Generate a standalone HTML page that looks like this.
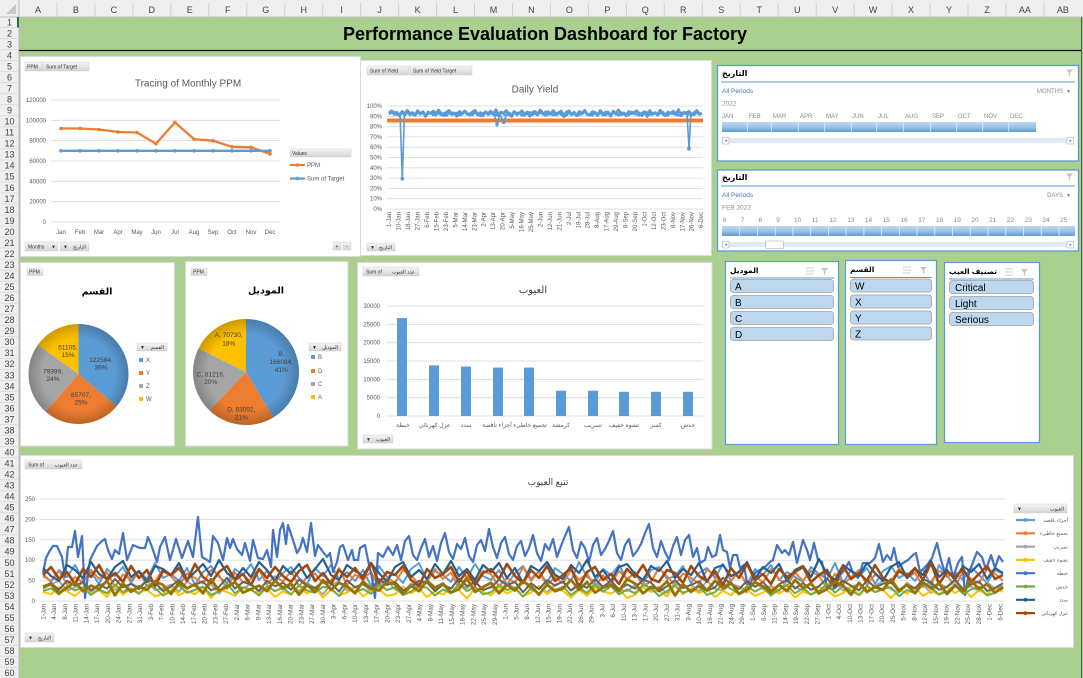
<!DOCTYPE html>
<html><head><meta charset="utf-8"><style>
html,body{margin:0;padding:0;background:#a9d08e;overflow:hidden}
svg{display:block}
text{font-family:"Liberation Sans","DejaVu Sans",sans-serif}
.h{font-size:9px;fill:#444}
.ax{font-size:6px;fill:#595959}
.b{font-size:5px;fill:#333}
.lg{font-size:6px;fill:#595959}
.pl{font-size:6.5px;fill:#404040}
.tl{font-size:6px;fill:#8a8a8a}
.it{font-size:10px;fill:#000}
</style></head><body>
<svg width="1083" height="678" viewBox="0 0 1083 678">
<defs>
<linearGradient id="btn" x1="0" y1="0" x2="0" y2="1"><stop offset="0" stop-color="#f6f6f6"/><stop offset="1" stop-color="#d3d3d3"/></linearGradient>
<linearGradient id="tlg" x1="0" y1="0" x2="0" y2="1"><stop offset="0" stop-color="#bcd7f0"/><stop offset="0.5" stop-color="#9cc3e8"/><stop offset="1" stop-color="#5b9bd5"/></linearGradient>
<radialGradient id="psh"><stop offset="0.72" stop-color="#000" stop-opacity="0"/><stop offset="1" stop-color="#000" stop-opacity="0.2"/></radialGradient>
<path id="n1" fill="none" vector-effect="non-scaling-stroke" stroke-linejoin="round" d="M0,0 L8,-8 16,4 24,-3 32,9 40,-6 48,2 56,-10 64,5 72,-2 80,7 88,-9 96,3 104,-5 112,11 120,-4 128,0 136,-7 144,6 152,-11 160,2 168,8 176,-3 184,-9 192,5 200,-1 208,10 216,-6 224,3 232,-8 240,1 248,7 256,-4 264,-10 272,6 280,-2 288,9 296,-5 304,2 312,-7 320,4 328,-12 336,8 344,-3 352,0 360,-9 368,5 376,11 384,-6 392,3 400,-1 408,-8 416,7 424,-4 432,10 440,-2 448,-6 456,4 464,-11 472,1 480,8 488,-5 496,3 504,-9 512,6 520,0 528,-7 536,12 544,-3 552,-8 560,5 568,-1 576,9 584,-6 592,2 600,-10 608,4 616,7 624,-5 632,-2 640,8 648,-9 656,1 664,6 672,-4 680,10 688,-7 696,3 704,-11 712,5 720,-1 728,9 736,-6 744,2 752,-3 760,-8 768,7 776,0 784,-5 792,11 800,-9 808,4 816,-2 824,6 832,-10 840,3 848,8 856,-4 864,1 872,-7 880,5 888,-12 896,9 904,-3 912,2 920,-6 928,7 936,-1 944,-9 952,4 960,0"/>
<path id="n2" fill="none" vector-effect="non-scaling-stroke" stroke-linejoin="round" d="M0,3 L8,-5 16,-10 24,6 32,1 40,-7 48,9 56,-3 64,-8 72,4 80,10 88,-6 96,0 104,-11 112,5 120,2 128,-4 136,8 144,-9 152,-1 160,7 168,-5 176,11 184,-2 192,-8 200,3 208,-6 216,9 224,1 232,-10 240,5 248,-3 256,7 264,-7 272,2 280,12 288,-4 296,-9 304,6 312,0 320,-5 328,8 336,-2 344,-11 352,4 360,9 368,-6 376,1 384,-8 392,7 400,-3 408,10 416,-5 424,2 432,-9 440,6 448,-1 456,8 464,-7 472,3 480,-12 488,5 496,0 504,9 512,-4 520,-8 528,6 536,-2 544,11 552,-6 560,1 568,-10 576,4 584,7 592,-3 600,-9 608,5 616,0 624,10 632,-7 640,2 648,-4 656,8 664,-11 672,3 680,6 688,-5 696,-1 704,9 712,-8 720,4 728,-2 736,7 744,-10 752,1 760,5 768,-6 776,12 784,-3 792,-9 800,6 808,0 816,-5 824,8 832,-2 840,-10 848,4 856,9 864,-7 872,2 880,-4 888,10 896,-6 904,1 912,-9 920,5 928,-1 936,7 944,-8 952,3 960,-2"/>
</defs>

<rect x="0" y="0" width="1083" height="678" fill="#a9d08e"/>
<rect x="0" y="0" width="1083" height="17" fill="#efefef"/>
<rect x="0" y="0" width="19" height="678" fill="#efefef"/>
<line x1="0" y1="17" x2="1083" y2="17" stroke="#bdbdbd" stroke-width="1"/>
<line x1="19" y1="0" x2="19" y2="678" stroke="#bdbdbd" stroke-width="1"/>
<path d="M6,14 L16,14 L16,4 Z" fill="#c8c8c8"/>
<path stroke="#d2d2d2" stroke-width="1" d="M57,3V17 M94.9,3V17 M132.9,3V17 M170.8,3V17 M208.8,3V17 M246.8,3V17 M284.7,3V17 M322.7,3V17 M360.6,3V17 M398.6,3V17 M436.6,3V17 M474.5,3V17 M512.5,3V17 M550.4,3V17 M588.4,3V17 M626.4,3V17 M664.3,3V17 M702.3,3V17 M740.2,3V17 M778.2,3V17 M816.2,3V17 M854.1,3V17 M892.1,3V17 M930,3V17 M968,3V17 M1006,3V17 M1043.9,3V17"/>
<g class="h" text-anchor="middle">
<text x="38" y="13">A</text><text x="75.9" y="13">B</text><text x="113.9" y="13">C</text><text x="151.8" y="13">D</text><text x="189.8" y="13">E</text><text x="227.8" y="13">F</text><text x="265.7" y="13">G</text><text x="303.7" y="13">H</text><text x="341.6" y="13">I</text><text x="379.6" y="13">J</text><text x="417.6" y="13">K</text><text x="455.5" y="13">L</text><text x="493.5" y="13">M</text><text x="531.4" y="13">N</text><text x="569.4" y="13">O</text><text x="607.4" y="13">P</text><text x="645.3" y="13">Q</text><text x="683.3" y="13">R</text><text x="721.2" y="13">S</text><text x="759.2" y="13">T</text><text x="797.2" y="13">U</text><text x="835.1" y="13">V</text><text x="873.1" y="13">W</text><text x="911" y="13">X</text><text x="949" y="13">Y</text><text x="987" y="13">Z</text><text x="1024.9" y="13">AA</text><text x="1062.9" y="13">AB</text>
</g>
<path stroke="#d8d8d8" stroke-width="0.8" d="M0,27.5H19 M0,38.5H19 M0,49.6H19 M0,60.6H19 M0,71.6H19 M0,82.7H19 M0,93.7H19 M0,104.7H19 M0,115.8H19 M0,126.8H19 M0,137.8H19 M0,148.8H19 M0,159.9H19 M0,170.9H19 M0,181.9H19 M0,193H19 M0,204H19 M0,215H19 M0,226.1H19 M0,237.1H19 M0,248.1H19 M0,259.1H19 M0,270.2H19 M0,281.2H19 M0,292.2H19 M0,303.3H19 M0,314.3H19 M0,325.3H19 M0,336.4H19 M0,347.4H19 M0,358.4H19 M0,369.4H19 M0,380.5H19 M0,391.5H19 M0,402.5H19 M0,413.6H19 M0,424.6H19 M0,435.6H19 M0,446.7H19 M0,457.7H19 M0,468.7H19 M0,479.7H19 M0,490.8H19 M0,501.8H19 M0,512.8H19 M0,523.9H19 M0,534.9H19 M0,545.9H19 M0,556.9H19 M0,568H19 M0,579H19 M0,590H19 M0,601.1H19 M0,612.1H19 M0,623.1H19 M0,634.2H19 M0,645.2H19 M0,656.2H19 M0,667.3H19"/>
<rect x="17" y="17" width="2" height="10.5" fill="#217346"/>
<g class="h" text-anchor="middle">
<text x="9.5" y="25.3">1</text><text x="9.5" y="36.3">2</text><text x="9.5" y="47.4">3</text><text x="9.5" y="58.4">4</text><text x="9.5" y="69.4">5</text><text x="9.5" y="80.5">6</text><text x="9.5" y="91.5">7</text><text x="9.5" y="102.5">8</text><text x="9.5" y="113.5">9</text><text x="9.5" y="124.6">10</text><text x="9.5" y="135.6">11</text><text x="9.5" y="146.6">12</text><text x="9.5" y="157.7">13</text><text x="9.5" y="168.7">14</text><text x="9.5" y="179.7">15</text><text x="9.5" y="190.8">16</text><text x="9.5" y="201.8">17</text><text x="9.5" y="212.8">18</text><text x="9.5" y="223.8">19</text><text x="9.5" y="234.9">20</text><text x="9.5" y="245.9">21</text><text x="9.5" y="256.9">22</text><text x="9.5" y="268">23</text><text x="9.5" y="279">24</text><text x="9.5" y="290">25</text><text x="9.5" y="301.1">26</text><text x="9.5" y="312.1">27</text><text x="9.5" y="323.1">28</text><text x="9.5" y="334.1">29</text><text x="9.5" y="345.2">30</text><text x="9.5" y="356.2">31</text><text x="9.5" y="367.2">32</text><text x="9.5" y="378.3">33</text><text x="9.5" y="389.3">34</text><text x="9.5" y="400.3">35</text><text x="9.5" y="411.4">36</text><text x="9.5" y="422.4">37</text><text x="9.5" y="433.4">38</text><text x="9.5" y="444.4">39</text><text x="9.5" y="455.5">40</text><text x="9.5" y="466.5">41</text><text x="9.5" y="477.5">42</text><text x="9.5" y="488.6">43</text><text x="9.5" y="499.6">44</text><text x="9.5" y="510.6">45</text><text x="9.5" y="521.7">46</text><text x="9.5" y="532.7">47</text><text x="9.5" y="543.7">48</text><text x="9.5" y="554.7">49</text><text x="9.5" y="565.8">50</text><text x="9.5" y="576.8">51</text><text x="9.5" y="587.8">52</text><text x="9.5" y="598.9">53</text><text x="9.5" y="609.9">54</text><text x="9.5" y="620.9">55</text><text x="9.5" y="632">56</text><text x="9.5" y="643">57</text><text x="9.5" y="654">58</text><text x="9.5" y="665">59</text><text x="9.5" y="676.1">60</text>
</g>
<line x1="1081.5" y1="17" x2="1081.5" y2="678" stroke="#555" stroke-width="1"/>

<text x="545" y="40" text-anchor="middle" style="font-size:18px;font-weight:bold;fill:#000">Performance Evaluation Dashboard for Factory</text>
<line x1="19" y1="50.5" x2="1081" y2="50.5" stroke="#000" stroke-width="1.3"/>

<!-- PPM chart -->
<rect x="20.5" y="56.5" width="340" height="200" fill="#fff" stroke="#d9d9d9"/>
<rect x="25" y="62" width="17" height="9" fill="url(#btn)" stroke="#c6c6c6" stroke-width="0.4"/>
<text class="b" x="27" y="68.3">PPM</text>
<rect x="42.5" y="62" width="46.5" height="9" fill="url(#btn)" stroke="#c6c6c6" stroke-width="0.4"/>
<text class="b" x="46" y="68.3">Sum of Target</text>
<text x="188" y="86.5" text-anchor="middle" style="font-size:10px;fill:#595959">Tracing of Monthly PPM</text>
<path stroke="#d9d9d9" stroke-width="0.8" d="M51,100H280 M51,120.3H280 M51,140.7H280 M51,161H280 M51,181.3H280 M51,201.7H280 M51,222H280"/>
<g class="ax" text-anchor="end">
<text x="46" y="102">120000</text><text x="46" y="122.3">100000</text><text x="46" y="142.7">80000</text><text x="46" y="163">60000</text><text x="46" y="183.3">40000</text><text x="46" y="203.7">20000</text><text x="46" y="224">0</text>
</g>
<g class="ax" text-anchor="middle">
<text x="61" y="234">Jan</text><text x="80" y="234">Feb</text><text x="99" y="234">Mar</text><text x="118" y="234">Apr</text><text x="137" y="234">May</text><text x="156" y="234">Jun</text><text x="175" y="234">Jul</text><text x="194" y="234">Aug</text><text x="213" y="234">Sep</text><text x="232" y="234">Oct</text><text x="251" y="234">Nov</text><text x="270" y="234">Dec</text>
</g>
<polyline fill="none" stroke="#ed7d31" stroke-width="2.3" stroke-linejoin="round" points="61,128.5 80,128.5 99,129.5 118,132 137,132.5 156,143.7 175,122.4 194,139.1 213,140.7 232,146.8 251,147.3 270,153.9"/>
<g fill="#ed7d31"><circle cx="61" cy="128.5" r="1.8"/><circle cx="80" cy="128.5" r="1.8"/><circle cx="99" cy="129.5" r="1.8"/><circle cx="118" cy="132" r="1.8"/><circle cx="137" cy="132.5" r="1.8"/><circle cx="156" cy="143.7" r="1.8"/><circle cx="175" cy="122.4" r="1.8"/><circle cx="194" cy="139.1" r="1.8"/><circle cx="213" cy="140.7" r="1.8"/><circle cx="232" cy="146.8" r="1.8"/><circle cx="251" cy="147.3" r="1.8"/><circle cx="270" cy="153.9" r="1.8"/></g>
<line x1="61" y1="150.8" x2="270" y2="150.8" stroke="#5b9bd5" stroke-width="2.3"/>
<g fill="#5b9bd5"><circle cx="61" cy="150.8" r="1.8"/><circle cx="80" cy="150.8" r="1.8"/><circle cx="99" cy="150.8" r="1.8"/><circle cx="118" cy="150.8" r="1.8"/><circle cx="137" cy="150.8" r="1.8"/><circle cx="156" cy="150.8" r="1.8"/><circle cx="175" cy="150.8" r="1.8"/><circle cx="194" cy="150.8" r="1.8"/><circle cx="213" cy="150.8" r="1.8"/><circle cx="232" cy="150.8" r="1.8"/><circle cx="251" cy="150.8" r="1.8"/><circle cx="270" cy="150.8" r="1.8"/></g>
<rect x="290" y="149" width="61" height="8" fill="url(#btn)" stroke="#c6c6c6" stroke-width="0.4"/>
<text class="b" x="292" y="155">Values</text>
<line x1="290" y1="165" x2="305" y2="165" stroke="#ed7d31" stroke-width="2.2"/><circle cx="297.5" cy="165" r="1.8" fill="#ed7d31"/>
<text class="lg" x="307" y="167.2">PPM</text>
<line x1="290" y1="178.5" x2="305" y2="178.5" stroke="#5b9bd5" stroke-width="2.2"/><circle cx="297.5" cy="178.5" r="1.8" fill="#5b9bd5"/>
<text class="lg" x="307" y="180.7">Sum of Target</text>
<rect x="25" y="242" width="33" height="9" fill="url(#btn)" stroke="#c6c6c6" stroke-width="0.4"/>
<text class="b" x="28" y="248.3">Months</text><text class="b" x="51" y="248.3">▼</text>
<rect x="60" y="242" width="29" height="9" fill="url(#btn)" stroke="#c6c6c6" stroke-width="0.4"/>
<text class="b" x="63" y="248.3">▼</text><text class="b" x="86" y="248.3" text-anchor="end">التاريخ</text>
<rect x="333" y="242" width="8" height="8" fill="url(#btn)" stroke="#c6c6c6" stroke-width="0.4"/><text class="b" x="337" y="248" text-anchor="middle">+</text>
<rect x="343" y="242" width="8" height="8" fill="url(#btn)" stroke="#c6c6c6" stroke-width="0.4"/><text class="b" x="347" y="248" text-anchor="middle">−</text>

<!-- Daily Yield -->
<rect x="360.5" y="60.5" width="351" height="195" fill="#fff" stroke="#d9d9d9"/>
<rect x="367" y="66" width="42" height="9" fill="url(#btn)" stroke="#c6c6c6" stroke-width="0.4"/>
<text class="b" x="370" y="72.3">Sum of Yield</text>
<rect x="410" y="66" width="62" height="9" fill="url(#btn)" stroke="#c6c6c6" stroke-width="0.4"/>
<text class="b" x="413" y="72.3">Sum of Yield Target</text>
<text x="535" y="92.5" text-anchor="middle" style="font-size:10px;fill:#595959">Daily Yield</text>
<path stroke="#d9d9d9" stroke-width="0.8" d="M387,106H703 M387,116.3H703 M387,126.6H703 M387,136.9H703 M387,147.2H703 M387,157.5H703 M387,167.8H703 M387,178.1H703 M387,188.4H703 M387,198.7H703 M387,209H703"/>
<g class="ax" text-anchor="end">
<text x="382" y="108">100%</text><text x="382" y="118.3">90%</text><text x="382" y="128.6">80%</text><text x="382" y="138.9">70%</text><text x="382" y="149.2">60%</text><text x="382" y="159.5">50%</text><text x="382" y="169.8">40%</text><text x="382" y="180.1">30%</text><text x="382" y="190.4">20%</text><text x="382" y="200.7">10%</text><text x="382" y="211">0%</text>
</g>
<line x1="387" y1="120.5" x2="703" y2="120.5" stroke="#ed7d31" stroke-width="4"/>
<use href="#n1" transform="translate(389,113.2) scale(0.326,0.28)" stroke="#5b9bd5" stroke-width="3"/>
<use href="#n2" transform="translate(389,113.8) scale(0.326,0.2)" stroke="#5b9bd5" stroke-width="2"/>
<polyline fill="none" stroke="#5b9bd5" stroke-width="1.6" points="400,113 402.3,178.7 404.5,113"/>
<polyline fill="none" stroke="#5b9bd5" stroke-width="1.6" points="687,113 689,148.7 691,112"/>
<polyline fill="none" stroke="#5b9bd5" stroke-width="1.6" points="494,114 497,124.3 500,114 503.7,122.3 507,113"/>
<g fill="#5b9bd5"><circle cx="402.3" cy="178.7" r="1.9"/><circle cx="689" cy="148.7" r="1.9"/><circle cx="497" cy="124.3" r="1.8"/><circle cx="503.7" cy="122.3" r="1.8"/></g>
<g class="ax" transform="rotate(-90)" text-anchor="end">
<text x="-212" y="391.2">1-Jan</text><text x="-212" y="400.7">10-Jan</text><text x="-212" y="410.1">18-Jan</text><text x="-212" y="419.6">27-Jan</text><text x="-212" y="429">6-Feb</text><text x="-212" y="438.5">15-Feb</text><text x="-212" y="447.9">23-Feb</text><text x="-212" y="457.4">5-Mar</text><text x="-212" y="466.8">14-Mar</text><text x="-212" y="476.3">23-Mar</text><text x="-212" y="485.7">2-Apr</text><text x="-212" y="495.2">13-Apr</text><text x="-212" y="504.7">20-Apr</text><text x="-212" y="514.1">5-May</text><text x="-212" y="523.6">16-May</text><text x="-212" y="533">25-May</text><text x="-212" y="542.5">2-Jun</text><text x="-212" y="551.9">12-Jun</text><text x="-212" y="561.4">21-Jun</text><text x="-212" y="570.8">2-Jul</text><text x="-212" y="580.3">18-Jul</text><text x="-212" y="589.7">28-Jul</text><text x="-212" y="599.2">8-Aug</text><text x="-212" y="608.7">17-Aug</text><text x="-212" y="618.1">29-Aug</text><text x="-212" y="627.6">8-Sep</text><text x="-212" y="637">20-Sep</text><text x="-212" y="646.5">1-Oct</text><text x="-212" y="655.9">12-Oct</text><text x="-212" y="665.4">23-Oct</text><text x="-212" y="674.8">8-Nov</text><text x="-212" y="684.3">17-Nov</text><text x="-212" y="693.7">26-Nov</text><text x="-212" y="703.2">6-Dec</text>
</g>
<rect x="367" y="243" width="28" height="8" fill="url(#btn)" stroke="#c6c6c6" stroke-width="0.4"/>
<text class="b" x="370" y="249">▼</text><text class="b" x="392" y="249" text-anchor="end">التاريخ</text>

<!-- Timeline slicer 1 -->
<rect x="717.5" y="65.5" width="361" height="95.5" fill="#fff" stroke="#5b9bd5" stroke-width="1.3"/>
<text x="722" y="76" style="font-size:8px;font-weight:bold;fill:#000">التاريخ</text>
<path d="M1066,69.5 H1073 L1070.2,72.8 V76.5 L1068.8,75.5 V72.8 Z" fill="#c4c4c4"/>
<line x1="721" y1="82" x2="1075" y2="82" stroke="#5b9bd5" stroke-width="1"/>
<text x="722" y="93" style="font-size:6.5px;fill:#4472c4">All Periods</text>
<text class="tl" x="1063" y="93" text-anchor="end">MONTHS</text><text class="tl" x="1067" y="93">▾</text>
<text class="tl" x="722" y="105.5" style="font-size:6.5px">2022</text>
<g class="tl">
<text x="722" y="118">JAN</text><text x="749" y="118">FEB</text><text x="773" y="118">MAR</text><text x="800" y="118">APR</text><text x="826" y="118">MAY</text><text x="852" y="118">JUN</text><text x="878" y="118">JUL</text><text x="905" y="118">AUG</text><text x="932" y="118">SEP</text><text x="958" y="118">OCT</text><text x="984" y="118">NOV</text><text x="1010" y="118">DEC</text>
</g>
<rect x="722" y="122" width="314" height="10" fill="url(#tlg)"/>
<path stroke="#e3eef9" stroke-width="0.8" d="M747.3,122V132 M771.3,122V132 M798.3,122V132 M824.7,122V132 M851.3,122V132 M876.7,122V132 M903.3,122V132 M930.7,122V132 M956.7,122V132 M982.7,122V132 M1008.7,122V132"/>
<rect x="722" y="138" width="352" height="5" fill="#deebf7"/>
<rect x="722.5" y="137.5" width="6.5" height="6.5" fill="#fff" stroke="#b0b0b0" stroke-width="0.6"/><path d="M727,139.5 L724.5,140.8 L727,142 Z" fill="#777"/>
<rect x="1067" y="137.5" width="6.5" height="6.5" fill="#fff" stroke="#b0b0b0" stroke-width="0.6"/><path d="M1069.5,139.5 L1072,140.8 L1069.5,142 Z" fill="#777"/>

<!-- Timeline slicer 2 -->
<rect x="717.5" y="170" width="361" height="81" fill="#fff" stroke="#5b9bd5" stroke-width="1.3"/>
<text x="722" y="180" style="font-size:8px;font-weight:bold;fill:#000">التاريخ</text>
<path d="M1066,173.5 H1073 L1070.2,176.8 V180.5 L1068.8,179.5 V176.8 Z" fill="#c4c4c4"/>
<line x1="721" y1="186" x2="1075" y2="186" stroke="#5b9bd5" stroke-width="1"/>
<text x="722" y="197" style="font-size:6.5px;fill:#4472c4">All Periods</text>
<text class="tl" x="1063" y="197" text-anchor="end">DAYS</text><text class="tl" x="1067" y="197">▾</text>
<text class="tl" x="722" y="209.5" style="font-size:6.5px">FEB 2022</text>
<g class="tl" style="font-size:6.5px">
<text x="723" y="222">6</text><text x="740.7" y="222">7</text><text x="758.5" y="222">8</text><text x="776.2" y="222">9</text><text x="794" y="222">10</text><text x="811.7" y="222">11</text><text x="829.4" y="222">12</text><text x="847.2" y="222">13</text><text x="864.9" y="222">14</text><text x="882.7" y="222">15</text><text x="900.4" y="222">16</text><text x="918.1" y="222">17</text><text x="935.9" y="222">18</text><text x="953.6" y="222">19</text><text x="971.4" y="222">20</text><text x="989.1" y="222">21</text><text x="1006.8" y="222">22</text><text x="1024.6" y="222">23</text><text x="1042.3" y="222">24</text><text x="1060" y="222">25</text>
</g>
<rect x="722" y="226" width="353" height="10" fill="url(#tlg)"/>
<path stroke="#e3eef9" stroke-width="0.8" d="M739.7,226V236 M757.4,226V236 M775.2,226V236 M792.9,226V236 M810.7,226V236 M828.4,226V236 M846.1,226V236 M863.9,226V236 M881.6,226V236 M899.4,226V236 M917.1,226V236 M934.8,226V236 M952.6,226V236 M970.3,226V236 M988.1,226V236 M1005.8,226V236 M1023.5,226V236 M1041.3,226V236 M1059,226V236"/>
<rect x="722" y="242" width="352" height="5" fill="#deebf7"/>
<rect x="765.7" y="241" width="17.6" height="7.5" fill="#fff" stroke="#b0b0b0" stroke-width="0.6"/>
<rect x="722.5" y="241.5" width="6.5" height="6.5" fill="#fff" stroke="#b0b0b0" stroke-width="0.6"/><path d="M727,243.5 L724.5,244.8 L727,246 Z" fill="#777"/>
<rect x="1067" y="241.5" width="6.5" height="6.5" fill="#fff" stroke="#b0b0b0" stroke-width="0.6"/><path d="M1069.5,243.5 L1072,244.8 L1069.5,246 Z" fill="#777"/>

<!-- Pie 1 -->
<rect x="20.5" y="262.5" width="154" height="183.5" fill="#fff" stroke="#d9d9d9"/>
<rect x="27" y="268" width="16" height="7.5" fill="url(#btn)" stroke="#c6c6c6" stroke-width="0.4"/>
<text class="b" x="29" y="273.6">PPM</text>
<text x="97" y="294.5" text-anchor="middle" style="font-size:9.5px;font-weight:bold;fill:#000">القسم</text>
<path d="M78.5,374 L78.5,324 A50,50 0 0,1 116.67,406.3 Z" fill="#5b9bd5"/>
<path d="M78.5,374 L116.67,406.3 A50,50 0 0,1 45.48,411.55 Z" fill="#ed7d31"/>
<path d="M78.5,374 L45.48,411.55 A50,50 0 0,1 37.9,344.83 Z" fill="#a5a5a5"/>
<path d="M78.5,374 L37.9,344.83 A50,50 0 0,1 78.5,324 Z" fill="#ffc000"/>
<circle cx="78.5" cy="374" r="50" fill="url(#psh)"/>
<g class="pl" text-anchor="middle">
<text x="101" y="362">122584,</text><text x="101" y="369.5">36%</text>
<text x="81" y="397">85707,</text><text x="81" y="404.5">25%</text>
<text x="53" y="373.5">79399,</text><text x="53" y="381">24%</text>
<text x="68" y="349.5">51105,</text><text x="68" y="357">15%</text>
</g>
<rect x="137" y="343" width="30" height="8" fill="url(#btn)" stroke="#c6c6c6" stroke-width="0.4"/>
<text class="b" x="140" y="349">▼</text><text class="b" x="164" y="349" text-anchor="end">القسم</text>
<rect x="139" y="358" width="4" height="4" fill="#5b9bd5"/><text class="lg" x="146" y="362.2">X</text>
<rect x="139" y="371" width="4" height="4" fill="#ed7d31"/><text class="lg" x="146" y="375.2">Y</text>
<rect x="139" y="384" width="4" height="4" fill="#a5a5a5"/><text class="lg" x="146" y="388.2">Z</text>
<rect x="139" y="397" width="4" height="4" fill="#ffc000"/><text class="lg" x="146" y="401.2">W</text>

<!-- Pie 2 -->
<rect x="185.5" y="261.5" width="162.5" height="184.5" fill="#fff" stroke="#d9d9d9"/>
<rect x="191" y="268" width="16" height="7.5" fill="url(#btn)" stroke="#c6c6c6" stroke-width="0.4"/>
<text class="b" x="193" y="273.6">PPM</text>
<text x="266" y="293.5" text-anchor="middle" style="font-size:9.5px;font-weight:bold;fill:#000">الموديل</text>
<path d="M246,372 L246,319 A53,53 0 0,1 273.25,417.46 Z" fill="#5b9bd5"/>
<path d="M246,372 L273.25,417.46 A53,53 0 0,1 209.44,410.37 Z" fill="#ed7d31"/>
<path d="M246,372 L209.44,410.37 A53,53 0 0,1 198.58,348.34 Z" fill="#a5a5a5"/>
<path d="M246,372 L198.58,348.34 A53,53 0 0,1 246,319 Z" fill="#ffc000"/>
<circle cx="246" cy="372" r="53" fill="url(#psh)"/>
<g class="pl" text-anchor="middle">
<text x="281.3" y="356">B,</text><text x="281.3" y="364">166084,</text><text x="281.3" y="372">41%</text>
<text x="241.3" y="411.5">D, 83092,</text><text x="241.3" y="419.5">21%</text>
<text x="210.7" y="376.5">C, 81216,</text><text x="210.7" y="383.8">20%</text>
<text x="228.7" y="337.2">A, 70730,</text><text x="228.7" y="345.5">18%</text>
</g>
<rect x="309" y="343" width="32" height="8" fill="url(#btn)" stroke="#c6c6c6" stroke-width="0.4"/>
<text class="b" x="312" y="349">▼</text><text class="b" x="338" y="349" text-anchor="end">الموديل</text>
<rect x="311" y="355" width="4" height="4" fill="#5b9bd5"/><text class="lg" x="318" y="359.2">B</text>
<rect x="311" y="369" width="4" height="4" fill="#ed7d31"/><text class="lg" x="318" y="373.2">D</text>
<rect x="311" y="382" width="4" height="4" fill="#a5a5a5"/><text class="lg" x="318" y="386.2">C</text>
<rect x="311" y="395" width="4" height="4" fill="#ffc000"/><text class="lg" x="318" y="399.2">A</text>

<!-- Bar chart -->
<rect x="357.5" y="262.5" width="354.5" height="186.5" fill="#fff" stroke="#d9d9d9"/>
<rect x="363" y="267" width="56" height="9" fill="url(#btn)" stroke="#c6c6c6" stroke-width="0.4"/>
<text class="b" x="366" y="273.3">Sum of</text><text class="b" x="415" y="273.3" text-anchor="end">عدد العيوب</text>
<text x="533" y="293" text-anchor="middle" style="font-size:10px;fill:#404040">العيوب</text>
<path stroke="#d9d9d9" stroke-width="0.8" d="M387,306H703 M387,324.3H703 M387,342.7H703 M387,361H703 M387,379.3H703 M387,397.7H703 M387,416H703"/>
<g class="ax" text-anchor="end">
<text x="380" y="308">30000</text><text x="380" y="326.3">25000</text><text x="380" y="344.7">20000</text><text x="380" y="363">15000</text><text x="380" y="381.3">10000</text><text x="380" y="399.7">5000</text><text x="380" y="418">0</text>
</g>
<g fill="#5b9bd5">
<rect x="397" y="318.1" width="10" height="97.9"/>
<rect x="429" y="365.4" width="10" height="50.6"/>
<rect x="461" y="366.5" width="10" height="49.5"/>
<rect x="493" y="367.6" width="10" height="48.4"/>
<rect x="524" y="367.6" width="10" height="48.4"/>
<rect x="556" y="390.7" width="10" height="25.3"/>
<rect x="588" y="390.7" width="10" height="25.3"/>
<rect x="619" y="391.8" width="10" height="24.2"/>
<rect x="651" y="391.8" width="10" height="24.2"/>
<rect x="683" y="391.8" width="10" height="24.2"/>
</g>
<g class="ax" text-anchor="middle">
<text x="403" y="427">خبطة</text><text x="434.5" y="427">عزل كهربائي</text><text x="466" y="427">سدد</text><text x="497" y="427">أجزاء ناقصة</text><text x="530" y="427">تجميع خاطىء</text><text x="561" y="427">كرمشة</text><text x="593" y="427">تسريب</text><text x="624" y="427">تشوه خفيف</text><text x="656" y="427">كسر</text><text x="688" y="427">خدش</text>
</g>
<rect x="363" y="435" width="30" height="8" fill="url(#btn)" stroke="#c6c6c6" stroke-width="0.4"/>
<text class="b" x="366" y="441">▼</text><text class="b" x="390" y="441" text-anchor="end">العيوب</text>

<!-- List slicers -->
<rect x="725.5" y="261.5" width="113" height="183" fill="#fff" stroke="#5b9bd5" stroke-width="1.2"/>
<text x="730" y="273" style="font-size:7.5px;font-weight:bold;fill:#000">الموديل</text>
<path stroke="#bdbdbd" stroke-width="0.8" d="M806,268H814 M806,271H814 M806,274H814"/><path d="M821,268 H828 L825.2,271.3 V275 L823.8,274 V271.3 Z" fill="#c4c4c4"/>
<line x1="730" y1="278" x2="834" y2="278" stroke="#5b9bd5" stroke-width="1"/>
<g fill="#bdd7ee" stroke="#a0a0a0" stroke-width="0.8">
<rect x="730.5" y="279.5" width="103" height="13" rx="3"/><rect x="730.5" y="295.5" width="103" height="13" rx="3"/><rect x="730.5" y="311.5" width="103" height="13" rx="3"/><rect x="730.5" y="327.5" width="103" height="13" rx="3"/>
</g>
<g class="it"><text x="735" y="290">A</text><text x="735" y="306">B</text><text x="735" y="322">C</text><text x="735" y="338">D</text></g>

<rect x="845.5" y="260.5" width="91" height="184" fill="#fff" stroke="#5b9bd5" stroke-width="1.2"/>
<text x="850" y="272" style="font-size:7.5px;font-weight:bold;fill:#000">القسم</text>
<path stroke="#bdbdbd" stroke-width="0.8" d="M903,267H911 M903,270H911 M903,273H911"/><path d="M920,267 H927 L924.2,270.3 V274 L922.8,273 V270.3 Z" fill="#c4c4c4"/>
<line x1="850" y1="277.5" x2="932" y2="277.5" stroke="#5b9bd5" stroke-width="1"/>
<g fill="#bdd7ee" stroke="#a0a0a0" stroke-width="0.8">
<rect x="850.5" y="279" width="81" height="13" rx="3"/><rect x="850.5" y="295" width="81" height="13" rx="3"/><rect x="850.5" y="311" width="81" height="13" rx="3"/><rect x="850.5" y="327" width="81" height="13" rx="3"/>
</g>
<g class="it"><text x="855" y="289.5">W</text><text x="855" y="305.5">X</text><text x="855" y="321.5">Y</text><text x="855" y="337.5">Z</text></g>

<rect x="944.5" y="262.5" width="95" height="180" fill="#fff" stroke="#5b9bd5" stroke-width="1.2"/>
<text x="949" y="274" style="font-size:7.5px;font-weight:bold;fill:#000">تصنيف العيب</text>
<path stroke="#bdbdbd" stroke-width="0.8" d="M1005,269H1013 M1005,272H1013 M1005,275H1013"/><path d="M1021,269 H1028 L1025.2,272.3 V276 L1023.8,275 V272.3 Z" fill="#c4c4c4"/>
<line x1="949" y1="279" x2="1034" y2="279" stroke="#5b9bd5" stroke-width="1"/>
<g fill="#bdd7ee" stroke="#a0a0a0" stroke-width="0.8">
<rect x="949.5" y="280.5" width="84" height="13" rx="3"/><rect x="949.5" y="296.5" width="84" height="13" rx="3"/><rect x="949.5" y="312.5" width="84" height="13" rx="3"/>
</g>
<g class="it"><text x="955" y="291">Critical</text><text x="955" y="307">Light</text><text x="955" y="323">Serious</text></g>

<!-- Bottom chart -->
<rect x="20.5" y="455.5" width="1053" height="192" fill="#fff" stroke="#d9d9d9"/>
<rect x="25" y="460" width="57" height="9" fill="url(#btn)" stroke="#c6c6c6" stroke-width="0.4"/>
<text class="b" x="28" y="466.3">Sum of</text><text class="b" x="78" y="466.3" text-anchor="end">عدد العيوب</text>
<text x="548" y="485" text-anchor="middle" style="font-size:9px;fill:#404040">تتبع العيوب</text>
<path stroke="#d9d9d9" stroke-width="0.8" d="M40,499H1005 M40,519.4H1005 M40,539.8H1005 M40,560.2H1005 M40,580.6H1005 M40,601H1005"/>
<g class="ax" text-anchor="end">
<text x="35" y="501">250</text><text x="35" y="521.4">200</text><text x="35" y="541.8">150</text><text x="35" y="562.2">100</text><text x="35" y="582.6">50</text><text x="35" y="603">0</text>
</g>
<g stroke-linejoin="round" fill="none">
<use href="#n1" transform="translate(43,574) scale(1,-1)" stroke="#5b9bd5" stroke-width="2"/>
<use href="#n2" transform="translate(1003,578) scale(-1,0.9)" stroke="#ed7d31" stroke-width="2"/>
<use href="#n2" transform="translate(43,587) scale(1,0.6)" stroke="#a5a5a5" stroke-width="2"/>
<use href="#n1" transform="translate(1003,592) scale(-1,0.55)" stroke="#ffc000" stroke-width="2"/>
<polyline stroke="#4472c4" stroke-width="2.2" points="43,573 46,558 49,552 53,546 57,546 62,557 65,577 68,547 72,547 75,531 78,557 82,536 85,598 90,560 97,546 102,541 105,539 108,550 112,559 115,550 119,554 123,533 127,560 133,545 140,548 145,548 148,537 152,547 157,562 160,547 165,537 170,560 176,539 182,558 188,541 193,557 198,517 202,557 207,560 210,562 213,536 218,543 223,560 227,538 230,548 233,539 237,549 242,555 245,543 250,561 253,540 258,558 263,559 267,550 271,567 273,530 277,557 280,530 283,523 286,544 288,525 293,540 297,553 300,548 303,538 307,552 311,523 315,556 318,545 323,552 327,557 330,553 333,572 337,562 340,547 343,545 348,560 352,550 354,560 358,560 360,548 365,545 368,560 372,578 375,598 378,553 383,557 388,547 393,555 397,545 401,560 405,541 409,536 413,555 417,560 421,548 425,539 429,557 433,546 437,561 441,543 445,533 449,552 453,559 457,544 461,549 465,538 469,556 473,562 477,545 481,540 485,551 489,529 493,547 497,558 501,543 505,537 509,554 513,560 517,546 521,541 525,556 529,548 533,535 537,553 541,561 545,544 549,550 553,539 557,557 561,546 565,536 569,527 573,550 577,558 581,542 585,548 589,562 593,545 597,538 601,555 605,549 609,541 613,531 617,553 621,560 625,545 629,539 633,556 637,551 641,544 645,533 649,524 653,548 657,557 661,541 665,552 669,560 673,546 677,537 681,555 685,540 689,535 693,557 697,548 700,563 705,560 708,547 712,557 716,555 720,535 723,550 727,552 730,568 733,555 737,555 740,568 744,565 747,583 750,585 755,573 760,570 765,567 770,562 773,560 777,545 782,553 785,550 789,555 793,542 797,563 803,540 807,550 810,560 814,543 818,560 822,562 827,587 833,590 837,578 843,572 849,562 853,573 858,578 863,563 870,563 875,558 879,544 883,562 887,555 891,560 894,548 898,567 903,563 908,560 913,555 916,553 920,572 927,565 932,558 937,543 941,560 945,573 949,558 953,578 958,563 962,557 965,595 969,573 973,562 977,552 982,557 986,570 991,555 995,568 999,556 1003,562"/>
<use href="#n2" transform="translate(1003,590) scale(-1,-0.55)" stroke="#70ad47" stroke-width="2"/>
<use href="#n2" transform="translate(43,571) scale(1,-1)" stroke="#255e91" stroke-width="2.2"/>
<use href="#n1" transform="translate(43,575) scale(1,1)" stroke="#9e480e" stroke-width="2.6"/>
<use href="#n2" transform="translate(1003,585) scale(-1,-0.6)" stroke="#636363" stroke-width="2"/>
<use href="#n1" transform="translate(1003,587) scale(-1,-0.7)" stroke="#997300" stroke-width="2.8"/>
</g>
<g class="ax" transform="rotate(-90)" text-anchor="end" style="font-size:6.3px">
<text x="-604" y="45.3">1-Jan</text><text x="-604" y="56.1">4-Jan</text><text x="-604" y="66.8">8-Jan</text><text x="-604" y="77.6">11-Jan</text><text x="-604" y="88.3">14-Jan</text><text x="-604" y="99.1">17-Jan</text><text x="-604" y="109.8">20-Jan</text><text x="-604" y="120.6">24-Jan</text><text x="-604" y="131.3">27-Jan</text><text x="-604" y="142.1">31-Jan</text><text x="-604" y="152.8">3-Feb</text><text x="-604" y="163.6">7-Feb</text><text x="-604" y="174.3">10-Feb</text><text x="-604" y="185.1">14-Feb</text><text x="-604" y="195.8">17-Feb</text><text x="-604" y="206.6">20-Feb</text><text x="-604" y="217.3">23-Feb</text><text x="-604" y="228.1">27-Feb</text><text x="-604" y="238.9">2-Mar</text><text x="-604" y="249.6">6-Mar</text><text x="-604" y="260.4">9-Mar</text><text x="-604" y="271.1">13-Mar</text><text x="-604" y="281.9">16-Mar</text><text x="-604" y="292.6">20-Mar</text><text x="-604" y="303.4">23-Mar</text><text x="-604" y="314.1">27-Mar</text><text x="-604" y="324.9">30-Mar</text><text x="-604" y="335.6">3-Apr</text><text x="-604" y="346.4">6-Apr</text><text x="-604" y="357.1">10-Apr</text><text x="-604" y="367.9">13-Apr</text><text x="-604" y="378.6">17-Apr</text><text x="-604" y="389.4">20-Apr</text><text x="-604" y="400.1">23-Apr</text><text x="-604" y="410.9">27-Apr</text><text x="-604" y="421.7">4-May</text><text x="-604" y="432.4">8-May</text><text x="-604" y="443.2">11-May</text><text x="-604" y="453.9">15-May</text><text x="-604" y="464.7">18-May</text><text x="-604" y="475.4">22-May</text><text x="-604" y="486.2">25-May</text><text x="-604" y="496.9">29-May</text><text x="-604" y="507.7">1-Jun</text><text x="-604" y="518.4">5-Jun</text><text x="-604" y="529.2">8-Jun</text><text x="-604" y="539.9">12-Jun</text><text x="-604" y="550.7">15-Jun</text><text x="-604" y="561.4">19-Jun</text><text x="-604" y="572.2">22-Jun</text><text x="-604" y="583">26-Jun</text><text x="-604" y="593.7">29-Jun</text><text x="-604" y="604.5">3-Jul</text><text x="-604" y="615.2">6-Jul</text><text x="-604" y="626">10-Jul</text><text x="-604" y="636.7">13-Jul</text><text x="-604" y="647.5">17-Jul</text><text x="-604" y="658.2">20-Jul</text><text x="-604" y="669">27-Jul</text><text x="-604" y="679.7">31-Jul</text><text x="-604" y="690.5">3-Aug</text><text x="-604" y="701.2">10-Aug</text><text x="-604" y="712">16-Aug</text><text x="-604" y="722.7">21-Aug</text><text x="-604" y="733.5">24-Aug</text><text x="-604" y="744.2">29-Aug</text><text x="-604" y="755">1-Sep</text><text x="-604" y="765.8">6-Sep</text><text x="-604" y="776.5">11-Sep</text><text x="-604" y="787.3">14-Sep</text><text x="-604" y="798">19-Sep</text><text x="-604" y="808.8">22-Sep</text><text x="-604" y="819.5">27-Sep</text><text x="-604" y="830.3">1-Oct</text><text x="-604" y="841">4-Oct</text><text x="-604" y="851.8">10-Oct</text><text x="-604" y="862.5">13-Oct</text><text x="-604" y="873.3">17-Oct</text><text x="-604" y="884">20-Oct</text><text x="-604" y="894.8">25-Oct</text><text x="-604" y="905.5">5-Nov</text><text x="-604" y="916.3">8-Nov</text><text x="-604" y="927.1">12-Nov</text><text x="-604" y="937.8">15-Nov</text><text x="-604" y="948.6">19-Nov</text><text x="-604" y="959.3">22-Nov</text><text x="-604" y="970.1">25-Nov</text><text x="-604" y="980.8">28-Nov</text><text x="-604" y="991.6">1-Dec</text><text x="-604" y="1002.3">6-Dec</text>
</g>
<rect x="1014" y="504" width="53" height="9" fill="url(#btn)" stroke="#c6c6c6" stroke-width="0.4"/>
<text class="b" x="1017" y="510.3">▼</text><text class="b" x="1064" y="510.3" text-anchor="end">العيوب</text>
<g stroke-width="2.2">
<line x1="1016" y1="520" x2="1035" y2="520" stroke="#5b9bd5"/>
<line x1="1016" y1="533.3" x2="1035" y2="533.3" stroke="#ed7d31"/>
<line x1="1016" y1="546.6" x2="1035" y2="546.6" stroke="#a5a5a5"/>
<line x1="1016" y1="559.9" x2="1035" y2="559.9" stroke="#ffc000"/>
<line x1="1016" y1="573.2" x2="1035" y2="573.2" stroke="#4472c4"/>
<line x1="1016" y1="586.5" x2="1035" y2="586.5" stroke="#70ad47"/>
<line x1="1016" y1="599.8" x2="1035" y2="599.8" stroke="#255e91"/>
<line x1="1016" y1="613.1" x2="1035" y2="613.1" stroke="#9e480e"/>
</g>
<g>
<circle cx="1025.5" cy="520" r="1.9" fill="#5b9bd5"/><circle cx="1025.5" cy="533.3" r="1.9" fill="#ed7d31"/><circle cx="1025.5" cy="546.6" r="1.9" fill="#a5a5a5"/><circle cx="1025.5" cy="559.9" r="1.9" fill="#ffc000"/><circle cx="1025.5" cy="573.2" r="1.9" fill="#4472c4"/><circle cx="1025.5" cy="586.5" r="1.9" fill="#70ad47"/><circle cx="1025.5" cy="599.8" r="1.9" fill="#255e91"/><circle cx="1025.5" cy="613.1" r="1.9" fill="#9e480e"/>
</g>
<g class="lg" style="font-size:5px" text-anchor="end">
<text x="1068" y="521.8">أجزاء ناقصة</text>
<text x="1068" y="535.1">تجميع خاطىء</text>
<text x="1068" y="548.4">تسريب</text>
<text x="1068" y="561.7">تشوه خفيف</text>
<text x="1068" y="575">خبطة</text>
<text x="1068" y="588.3">خدش</text>
<text x="1068" y="601.6">سدد</text>
<text x="1068" y="614.9">عزل كهربائي</text>
</g>
<rect x="25" y="633" width="29" height="9" fill="url(#btn)" stroke="#c6c6c6" stroke-width="0.4"/>
<text class="b" x="28" y="639.3">▼</text><text class="b" x="51" y="639.3" text-anchor="end">التاريخ</text>
</svg>
</body></html>
